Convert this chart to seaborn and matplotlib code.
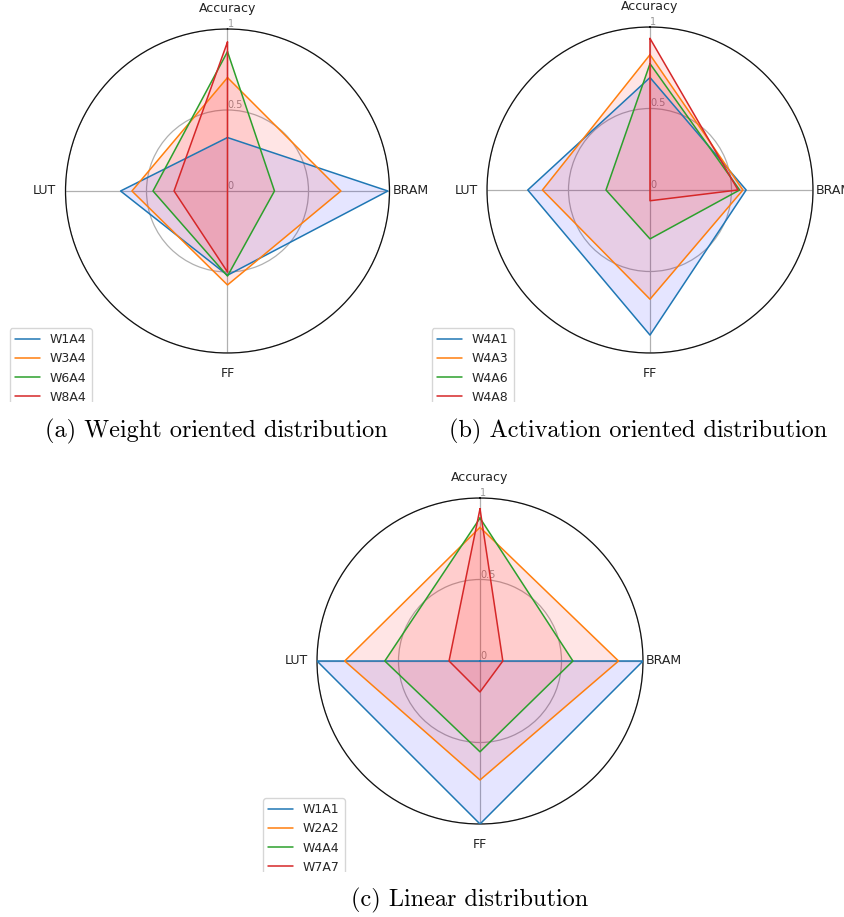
import numpy as np
import pandas as pd
import matplotlib
matplotlib.use("Agg")
import matplotlib.pyplot as plt
from matplotlib.patches import Rectangle
import seaborn as sns

# ---------------- data ----------------
axes_labels = ["Accuracy", "BRAM", "FF", "LUT"]

series_a = ["W1A4", "W3A4", "W6A4", "W8A4"]
values_a = [
    [0.33, 0.99, 0.52, 0.66],
    [0.70, 0.70, 0.58, 0.59],
    [0.86, 0.29, 0.525, 0.46],
    [0.92, 0.0, 0.50, 0.33],
]

series_b = ["W4A1", "W4A3", "W4A6", "W4A8"]
values_b = [
    [0.69, 0.59, 0.89, 0.75],
    [0.83, 0.57, 0.67, 0.66],
    [0.775, 0.55, 0.30, 0.27],
    [0.93, 0.54, 0.066, 0.0],
]

series_c = ["W1A1", "W2A2", "W4A4", "W7A7"]
values_c = [
    [0.0, 1.0, 1.0, 1.0],
    [0.82, 0.85, 0.73, 0.83],
    [0.877, 0.57, 0.557, 0.584],
    [0.934, 0.14, 0.19, 0.19],
]

captions = ["(a) Weight oriented distribution",
            "(b) Activation oriented distribution",
            "(c) Linear distribution"]
rticks = [0, 0.5, 1]
rtick_labels = ["0", "0.5", "1"]

# ---------------- style ----------------
sns.set_theme(style="white")
plt.rcParams["font.family"] = ["DejaVu Sans"]

W, H = 845, 917
fig = plt.figure(figsize=(W / 100, H / 100), dpi=100)

line_colors = sns.color_palette("tab10", 4)
fill_colors = ["#0000ff", "#ff0000", "#ff0000", "#ff0000"]

angles = np.linspace(0, 2 * np.pi, len(axes_labels), endpoint=False)


def radar(cx, cy, r, names, vals, leg_x, leg_y):
    ax = fig.add_axes([(cx - r) / W, 1 - (cy + r) / H, 2 * r / W, 2 * r / H],
                      projection="polar")
    ax.set_theta_offset(np.pi / 2)
    ax.set_theta_direction(-1)
    rows = []
    n = len(axes_labels)
    for name, v in zip(names, vals):
        for k in range(n + 1):
            th = angles[k] if k < n else 2 * np.pi
            rows.append({"theta": th, "value": v[k % n], "series": name})
    df = pd.DataFrame(rows)
    sns.lineplot(data=df, x="theta", y="value", hue="series", palette=line_colors,
                 sort=False, estimator=None, linewidth=1.1, ax=ax, legend=False,
                 zorder=3)
    for i, name in enumerate(names):
        sub = df[df["series"] == name]
        ax.fill(sub["theta"], sub["value"], color=fill_colors[i], alpha=0.1,
                linewidth=0, zorder=1)
    ax.set_xlabel("")
    ax.set_ylabel("")
    ax.set_ylim(0, 1)
    ax.set_xticks(angles)
    ax.set_xticklabels(axes_labels, fontsize=9, color="#222222")
    ax.set_yticks(rticks)
    ax.set_yticklabels(rtick_labels, fontsize=7, color="#999999")
    ax.set_rlabel_position(0)
    ax.grid(True, color="#b0b0b0", linewidth=0.9)
    ax.spines["polar"].set_color("#111111")
    ax.spines["polar"].set_linewidth(0.9)
    ax.tick_params(axis="x", pad=2)
    handles = [plt.Line2D([], [], color=line_colors[i], linewidth=1.1) for i in range(4)]
    fig.legend(handles, names, loc="upper left",
               bbox_to_anchor=(leg_x / W, 1 - leg_y / H), fontsize=9,
               frameon=True, framealpha=0.8, edgecolor="#cccccc", fancybox=True,
               borderaxespad=0)
    return ax


radar(227.5, 191, 162, series_a, values_a, 10, 328)
radar(650, 190, 163, series_b, values_b, 432, 328)
radar(480, 661, 163, series_c, values_c, 263, 798)

# crop masks (sub-figure boundaries of the original)
fig.add_artist(Rectangle((0, 1 - 416 / H), 1, 14 / H, transform=fig.transFigure,
                         facecolor="white", edgecolor="none", zorder=10))
fig.add_artist(Rectangle((240 / W, 1 - 886 / H), 440 / W, 14 / H, transform=fig.transFigure,
                         facecolor="white", edgecolor="none", zorder=10))

cap_kw = dict(fontsize=17.5, family="cmr10", ha="center", va="center", color="black")
fig.text(216 / W, 1 - 431 / H, captions[0], **cap_kw)
fig.text(638 / W, 1 - 431 / H, captions[1], **cap_kw)
fig.text(470 / W, 1 - 900 / H, captions[2], **cap_kw)

fig.savefig("out.png", dpi=100)
